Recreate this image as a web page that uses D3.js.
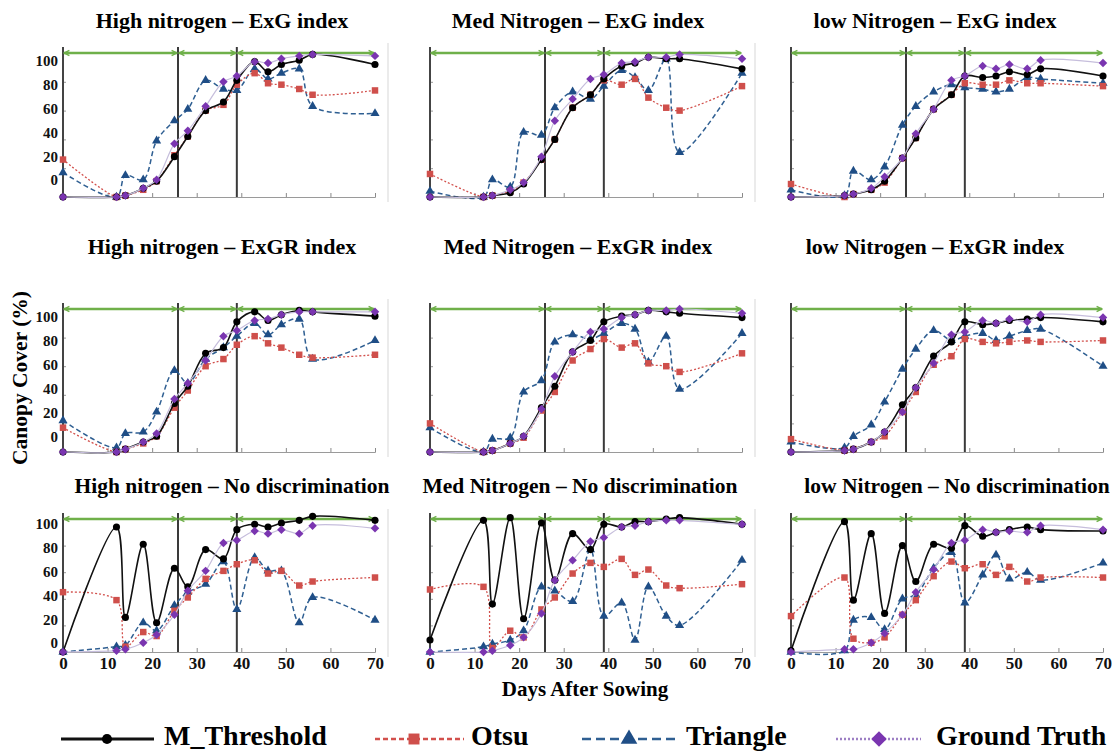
<!DOCTYPE html>
<html>
<head>
<meta charset="utf-8">
<script src="https://cdn.jsdelivr.net/npm/d3@7/dist/d3.min.js"></script>
<style>
  body { margin: 0; background: #fff; }
  text { font-family: "Liberation Serif", "Times New Roman", serif; font-weight: bold; }
</style>
</head>
<body>
<div id="chart"></div>
<script>
// sampling days (x values)
let days = [0, 12, 14, 18, 21, 25, 28, 32, 36, 39, 43, 46, 49, 53, 56, 70];
let stageBreaks = [0, 25.8, 39, 70];
let yTicks = [0, 20, 40, 60, 80, 100];
let xTicks = [0, 10, 20, 30, 40, 50, 60, 70];

// ExG index
let exgHighM    = [0, 0, 1, 6, 11, 28, 42, 60, 66, 81, 94, 87, 92, 95, 99, 92];
let exgHighOtsu = [26, 0, 1, 5, 11, 29, 42, 60, 64, 78, 86, 79, 78, 75, 71, 74];
let exgHighTri  = [17, 0, 15, 12, 39, 53, 61, 81, 75, 74, 89, 82, 86, 89, 63, 58];
let exgHighGT   = [0, 0, 1, 6, 12, 37, 46, 63, 80, 84, 94, 93, 96, 98, 99, 98];

let exgMedM    = [0, 0, 1, 3, 9, 26, 40, 62, 71, 82, 91, 93, 97, 96, 96, 89];
let exgMedOtsu = [16, 0, 1, 4, 10, 26, 40, 62, 71, 81, 78, 82, 69, 62, 60, 77];
let exgMedTri  = [4, 0, 12, 7, 45, 43, 62, 73, 68, 77, 88, 83, 74, 96, 31, 86];
let exgMedGT   = [0, 0, 1, 5, 10, 28, 53, 68, 82, 85, 93, 94, 97, 97, 99, 96];

let exgLowM    = [0, 1, 2, 5, 11, 27, 41, 61, 71, 84, 83, 84, 87, 85, 89, 84];
let exgLowOtsu = [9, 0, 2, 5, 10, 27, 41, 61, 71, 79, 78, 78, 81, 79, 79, 77];
let exgLowTri  = [5, 1, 18, 12, 21, 50, 63, 73, 78, 76, 75, 73, 75, 83, 82, 79];
let exgLowGT   = [0, 1, 2, 6, 14, 27, 44, 61, 81, 84, 91, 89, 92, 89, 95, 93];

// ExGR index
let exgrHighM    = [0, 0, 2, 7, 11, 34, 46, 69, 73, 91, 98, 92, 96, 99, 98, 95];
let exgrHighOtsu = [17, 0, 2, 6, 11, 31, 43, 60, 65, 75, 81, 76, 73, 68, 66, 68];
let exgrHighTri  = [22, 3, 13, 14, 28, 57, 48, 65, 73, 81, 90, 82, 89, 93, 65, 78];
let exgrHighGT   = [0, 0, 2, 7, 13, 37, 48, 64, 81, 85, 92, 93, 96, 98, 98, 98];

let exgrMedM    = [0, 0, 1, 6, 11, 31, 46, 70, 78, 91, 95, 96, 99, 98, 97, 94];
let exgrMedOtsu = [20, 0, 1, 6, 10, 29, 42, 64, 72, 79, 73, 76, 62, 60, 56, 69];
let exgrMedTri  = [17, 0, 9, 10, 42, 50, 77, 82, 79, 83, 90, 86, 63, 81, 44, 83];
let exgrMedGT   = [0, 0, 1, 6, 11, 30, 53, 70, 84, 86, 94, 96, 99, 99, 100, 97];

let exgrLowM    = [0, 1, 2, 7, 14, 33, 45, 67, 77, 91, 89, 90, 92, 93, 94, 91];
let exgrLowOtsu = [9, 1, 2, 7, 11, 28, 42, 61, 67, 79, 77, 76, 77, 78, 77, 78];
let exgrLowTri  = [7, 3, 11, 19, 35, 58, 72, 85, 78, 81, 83, 78, 81, 85, 86, 60];
let exgrLowGT   = [0, 1, 2, 7, 14, 28, 45, 62, 82, 84, 92, 90, 93, 91, 96, 94];

// no discrimination
let noHighM    = [0, 94, 26, 81, 22, 63, 49, 77, 70, 92, 96, 94, 97, 99, 102, 99];
let noHighOtsu = [45, 39, 4, 15, 12, 31, 41, 55, 61, 66, 69, 59, 61, 50, 53, 56];
let noHighTri  = [0, 4, 5, 22, 16, 35, 45, 51, 68, 32, 71, 61, 61, 22, 41, 24];
let noHighGT   = [0, 1, 2, 7, 13, 28, 46, 61, 82, 84, 91, 89, 92, 89, 95, 93];

let noMedM    = [9, 99, 36, 101, 25, 97, 54, 89, 77, 96, 94, 98, 98, 100, 101, 96];
let noMedOtsu = [47, 49, 3, 16, 11, 32, 41, 59, 67, 64, 70, 58, 62, 50, 48, 51];
let noMedTri  = [0, 4, 6, 9, 16, 49, 46, 38, 77, 27, 37, 9, 49, 27, 20, 69];
let noMedGT   = [0, 0, 1, 5, 11, 29, 54, 69, 83, 86, 94, 95, 98, 99, 99, 96];

let noLowM    = [1, 98, 39, 89, 29, 80, 53, 81, 78, 95, 87, 90, 92, 94, 92, 91];
let noLowOtsu = [27, 56, 10, 7, 11, 28, 39, 57, 68, 63, 66, 58, 64, 53, 56, 56];
let noLowTri  = [0, 1, 24, 26, 17, 40, 43, 63, 75, 37, 58, 73, 55, 60, 54, 67];
let noLowGT   = [0, 2, 2, 7, 14, 28, 45, 62, 82, 84, 92, 90, 91, 90, 95, 92];

let titles = [
    ["High nitrogen \u2013 ExG index", "Med Nitrogen \u2013 ExG index", "low Nitrogen \u2013 ExG index"],
    ["High nitrogen \u2013 ExGR index", "Med Nitrogen \u2013 ExGR index", "low Nitrogen \u2013 ExGR index"],
    ["High nitrogen \u2013 No discrimination", "Med Nitrogen \u2013 No discrimination", "low Nitrogen \u2013 No discrimination"]
];

let panels = [
    [[exgHighM, exgHighOtsu, exgHighTri, exgHighGT], [exgMedM, exgMedOtsu, exgMedTri, exgMedGT], [exgLowM, exgLowOtsu, exgLowTri, exgLowGT]],
    [[exgrHighM, exgrHighOtsu, exgrHighTri, exgrHighGT], [exgrMedM, exgrMedOtsu, exgrMedTri, exgrMedGT], [exgrLowM, exgrLowOtsu, exgrLowTri, exgrLowGT]],
    [[noHighM, noHighOtsu, noHighTri, noHighGT], [noMedM, noMedOtsu, noMedTri, noMedGT], [noLowM, noLowOtsu, noLowTri, noLowGT]]
];

let legendNames = ["M_Threshold", "Otsu", "Triangle", "Ground Truth"];

// layout
let colLeft = [63, 430, 791];
let colWidth = 312;
let rowTop = [53, 309, 519];
let rowBottom = [197, 452, 652];
let titleY = [23, 249, 488];
let titleX = [222, 578, 935];
let titleX3 = [232, 580, 957];
let labelRange = [[180, 61], [437, 317], [643, 524]];

let styles = [
    { line: "#111", width: 1.6, dash: null, fill: "#000", symbol: d3.symbolCircle, size: 40, rot: 0 },
    { line: "#d2504c", width: 1.3, dash: "2,2", fill: "#cf4f4b", symbol: d3.symbolSquare, size: 42, rot: 0 },
    { line: "#2f5f92", width: 1.5, dash: "5,3", fill: "#1f4e86", symbol: d3.symbolTriangle, size: 36, rot: 0 },
    { line: "#c6bedc", width: 1.2, dash: null, fill: "#7a35b0", symbol: d3.symbolSquare, size: 36, rot: 45 }
];
let drawOrder = [2, 1, 0, 3];

let svg = d3.select('#chart')
    .append('svg')
        .attr('width', 1113)
        .attr('height', 753);

let defs = svg.append('defs');
defs.append('marker')
    .attr('id', 'arrowEnd')
    .attr('viewBox', '0 0 8 8')
    .attr('refX', 7).attr('refY', 4)
    .attr('markerWidth', 3).attr('markerHeight', 3)
    .attr('orient', 'auto-start-reverse')
    .append('path')
        .attr('d', 'M1,1 L7,4 L1,7')
        .attr('fill', 'none')
        .attr('stroke', '#6fb04a')
        .attr('stroke-width', 1.6);

function drawPanel(r, c) {
    let x = d3.scaleLinear().domain([0, 70]).range([colLeft[c], colLeft[c] + colWidth]);
    let y = d3.scaleLinear().domain([0, 100]).range([rowBottom[r], rowTop[r]]);
    let g = svg.append('g');

    // faint frame edge on the right of the cell
    if (c < 2) {
        g.append('line')
            .attr('x1', x(70) + 13).attr('x2', x(70) + 13)
            .attr('y1', rowTop[r] - 10).attr('y2', rowBottom[r] + 5)
            .attr('stroke', '#e4e4e4').attr('stroke-width', 1.5);
    }

    // bottom axis
    let xAxis = g.append('g')
        .attr('transform', 'translate(0,' + rowBottom[r] + ')')
        .call(d3.axisBottom(x).tickValues(xTicks.slice(1)).tickSize(-4).tickFormat(''));
    xAxis.select('.domain').attr('stroke', '#9a9a9a');
    xAxis.selectAll('.tick line').attr('stroke', '#8a8a8a');

    // left axis
    let yAxis = g.append('g')
        .attr('transform', 'translate(' + colLeft[c] + ',0)')
        .call(d3.axisLeft(y).tickValues(yTicks.slice(1, 5)).tickSize(-3).tickFormat(''));
    yAxis.select('.domain').remove();
    yAxis.selectAll('.tick line').attr('stroke', '#999');
    g.append('line')
        .attr('x1', colLeft[c]).attr('x2', colLeft[c])
        .attr('y1', rowTop[r] - 6).attr('y2', rowBottom[r])
        .attr('stroke', '#444').attr('stroke-width', 2);

    // stage boundaries
    stageBreaks.slice(1, 3).forEach(function (d) {
        g.append('line')
            .attr('x1', x(d)).attr('x2', x(d))
            .attr('y1', rowTop[r] - 6).attr('y2', rowBottom[r])
            .attr('stroke', '#3a3a3a').attr('stroke-width', 2);
    });

    // green stage arrows
    for (let i = 0; i < stageBreaks.length - 1; i++) {
        g.append('line')
            .attr('x1', x(stageBreaks[i]) + 1).attr('x2', x(stageBreaks[i + 1]) - 1)
            .attr('y1', y(100)).attr('y2', y(100))
            .attr('stroke', '#6fb04a').attr('stroke-width', 2.4)
            .attr('marker-start', 'url(#arrowEnd)')
            .attr('marker-end', 'url(#arrowEnd)');
    }

    // y labels only on left column
    if (c === 0) {
        let yLab = d3.scaleLinear().domain([0, 100]).range(labelRange[r]);
        let lab = g.append('g')
            .attr('transform', 'translate(' + (colLeft[c] - 3) + ',0)')
            .call(d3.axisLeft(yLab).tickValues(yTicks).tickSize(0).tickPadding(2));
        lab.select('.domain').remove();
        lab.selectAll('text')
            .attr('font-size', '15px')
            .attr('font-family', '"Liberation Serif", serif')
            .attr('font-weight', 'bold')
            .attr('fill', '#111');
    }

    // x labels only on bottom row
    if (r === 2) {
        let xl = g.append('g')
            .attr('transform', 'translate(0,' + rowBottom[r] + ')')
            .call(d3.axisBottom(x).tickValues(xTicks).tickSize(0).tickPadding(5));
        xl.select('.domain').remove();
        xl.selectAll('text')
            .attr('font-size', '17px')
            .attr('font-family', '"Liberation Serif", serif')
            .attr('font-weight', 'bold')
            .attr('fill', '#111');
    }

    // title
    g.append('text')
        .attr('x', r === 2 ? titleX3[c] : titleX[c])
        .attr('y', titleY[r])
        .attr('text-anchor', 'middle')
        .attr('dominant-baseline', 'middle')
        .attr('font-size', r === 2 ? '21.5px' : '22px')
        .text(titles[r][c]);

    let line = d3.line()
        .x(function (d, i) { return x(days[i]); })
        .y(function (d) { return y(d); })
        .curve(d3.curveCatmullRom.alpha(0.5));

    drawOrder.forEach(function (s) {
        let vals = panels[r][c][s];
        let st = styles[s];
        g.append('path')
            .attr('d', line(vals))
            .attr('fill', 'none')
            .attr('stroke', st.line)
            .attr('stroke-width', st.width)
            .attr('stroke-dasharray', st.dash);
        g.selectAll('.m' + s)
            .data(vals)
            .enter()
            .append('path')
                .attr('d', d3.symbol().type(st.symbol).size(st.size))
                .attr('transform', function (d, i) {
                    return 'translate(' + x(days[i]) + ',' + y(d) + ') rotate(' + st.rot + ')';
                })
                .attr('fill', st.fill);
    });
}

for (let r = 0; r < 3; r++) {
    for (let c = 0; c < 3; c++) {
        drawPanel(r, c);
    }
}

// axis titles
svg.append('text')
    .attr('transform', 'translate(22,378) rotate(-90)')
    .attr('text-anchor', 'middle')
    .attr('dominant-baseline', 'middle')
    .attr('font-size', '21.5px')
    .text('Canopy Cover (%)');

svg.append('text')
    .attr('x', 585)
    .attr('y', 691)
    .attr('text-anchor', 'middle')
    .attr('dominant-baseline', 'middle')
    .attr('font-size', '21px')
    .text('Days After Sowing');

// legend
let legendX = [61, 375, 582, 836];
let legendW = [93, 89, 93, 85];
let legendMark = [107, 414, 629, 879];
let legendText = [164, 471, 686, 936];
let legendY = 739;
let legendMarkSize = [80, 120, 120, 120];

legendNames.forEach(function (name, s) {
    let st = styles[s];
    let lg = svg.append('g');
    lg.append('line')
        .attr('x1', legendX[s]).attr('x2', legendX[s] + legendW[s])
        .attr('y1', legendY).attr('y2', legendY)
        .attr('stroke', s === 3 ? '#9d7fc4' : st.line)
        .attr('stroke-width', s === 0 ? 2.8 : 2.4)
        .attr('stroke-dasharray', s === 3 ? '2,2' : (s === 1 ? '5,3' : (s === 2 ? '9,5' : null)));
    lg.append('path')
        .attr('d', d3.symbol().type(st.symbol).size(legendMarkSize[s]))
        .attr('transform', 'translate(' + legendMark[s] + ',' + legendY + ') rotate(' + st.rot + ')')
        .attr('fill', st.fill);
    lg.append('text')
        .attr('x', legendText[s])
        .attr('y', legendY)
        .attr('dominant-baseline', 'middle')
        .attr('font-size', '28px')
        .text(name);
});
</script>
</body>
</html>
